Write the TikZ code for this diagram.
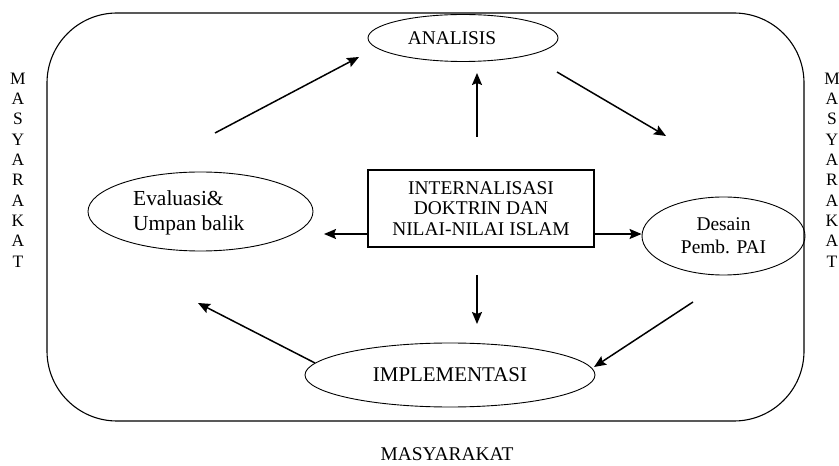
\documentclass[tikz,border=0pt]{standalone}
\usepackage{fontspec}
\setmainfont{Liberation Serif}
\usepackage{tikz}
\usetikzlibrary{positioning,shapes.geometric,arrows.meta}

\begin{document}
\begin{tikzpicture}[x=1bp,y=-1bp]
	\tikzset{
		oval/.style={ellipse, draw=black, line width=0.9pt, inner sep=0pt},
		kotak/.style={rectangle, draw=black, line width=1.1pt, inner sep=0pt, align=center,
			font=\fontsize{19.5}{20.5}\selectfont},
		panah/.style={draw=black, line width=1.5pt, -{Stealth[length=12bp, width=10bp, inset=2bp]}},
		teks/.style={inner sep=0pt, font=\fontsize{19.5}{23}\selectfont},
		tegak/.style={inner sep=0pt, align=center, font=\fontsize{17.5}{20.4}\selectfont}
	}
	\useasboundingbox (0,0) rectangle (839,466);

	% bingkai masyarakat
	\draw[line width=1.1pt, rounded corners=70bp] (47,13) rectangle (804,421);
	\node[tegak] (mkiri) at (18,170) {M\\A\\S\\Y\\A\\R\\A\\K\\A\\T};
	\node[tegak] (mkanan) at (832,170) {M\\A\\S\\Y\\A\\R\\A\\K\\A\\T};
	\node[teks] (mbawah) at (447,454) {MASYARAKAT};

	% komponen
	\node[kotak, minimum width=226bp, minimum height=77bp] (pusat) at (481,208.5)
		{INTERNALISASI\\DOKTRIN DAN\\NILAI-NILAI ISLAM};
	\node[oval, minimum width=190bp, minimum height=47bp] (analisis) at (463,38) {};
	\node[teks] (analisisT) at (452,38) {ANALISIS};
	\node[oval, minimum width=163bp, minimum height=78bp, align=center,
		font=\fontsize{19.5}{23}\selectfont] (desain) at (723.5,236) {Desain\\Pemb. PAI};
	\node[oval, minimum width=290bp, minimum height=64bp,
		font=\fontsize{21}{23}\selectfont] (impl) at (450,375) {IMPLEMENTASI};
	\node[oval, minimum width=225bp, minimum height=79bp] (evaluasi) at (200.5,211.5) {};
	\node[teks, anchor=west, align=left, font=\fontsize{21.5}{25}\selectfont]
		(evaluasiT) at (133,212.5) {Evaluasi\&\\Umpan balik};

	% ujung panah lepas
	\coordinate (e1) at (215,133);
	\coordinate (e2) at (359,57);
	\coordinate (u1) at (477,137);
	\coordinate (u2) at (477,73);
	\coordinate (d1) at (557,72);
	\coordinate (d2) at (666,136);
	\coordinate (kiri) at (324,234);
	\coordinate (b1) at (477,275);
	\coordinate (b2) at (477,324);
	\coordinate (i1) at (315,363);
	\coordinate (i2) at (198,303);
	\coordinate (p1) at (693,302);
	\coordinate (p2) at (594,367);

	% siklus
	\draw[panah] (e1) -- (e2);
	\draw[panah] (d1) -- (d2);
	\draw[panah] (p1) -- (p2);
	\draw[panah] (i1) -- (i2);

	% dari pusat
	\draw[panah] (u1) -- (u2);
	\draw[panah] (b1) -- (b2);
	\draw[panah] (pusat.west |- kiri) -- (kiri);
	\draw[panah] (pusat.east |- kiri) -- (desain.west |- kiri);
\end{tikzpicture}
\end{document}
